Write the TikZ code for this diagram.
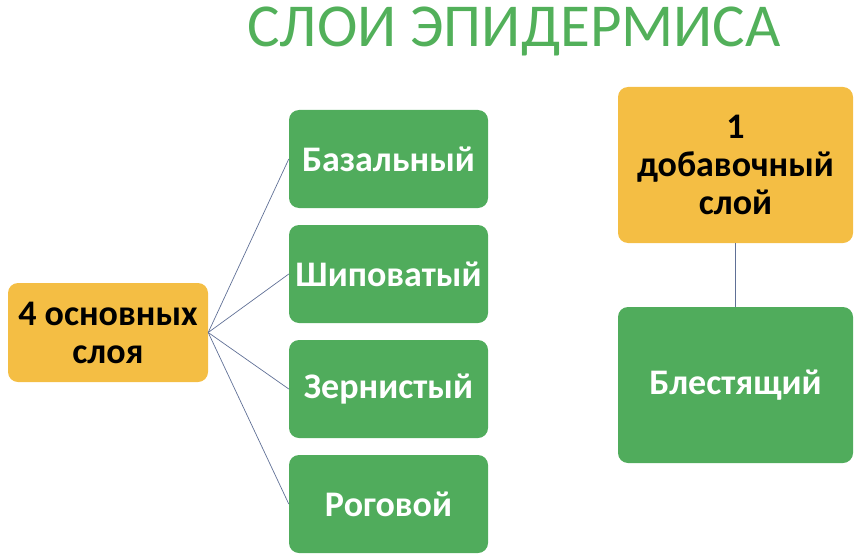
\documentclass[tikz,border=0pt]{standalone}
\usepackage{fontspec}
\setmainfont{Carlito}
\definecolor{boxgreen}{RGB}{80,172,92}
\definecolor{titlegreen}{RGB}{82,176,90}
\definecolor{boxorange}{RGB}{244,190,68}
\definecolor{linkcol}{RGB}{96,112,150}
\tikzset{
  base/.style={rectangle, rounded corners=10pt, inner sep=0pt, align=center,
    font=\fontsize{36}{38}\selectfont\bfseries},
  greenbox/.style={base, fill=boxgreen, text=white},
  orangebox/.style={base, fill=boxorange, text=black},
  link/.style={draw=linkcol, line width=0.7pt}
}
\begin{document}
\begin{tikzpicture}[x=1pt,y=-1pt]
\useasboundingbox (0,0) rectangle (866,559);
\node[text=titlegreen, font=\fontsize{61}{70}\selectfont, anchor=base] (title) at (514,47) {СЛОИ ЭПИДЕРМИСА};
\node[orangebox, minimum width=200pt, minimum height=99pt] (main) at (108,332.5) {4 основных\\слоя};
\node[greenbox, minimum width=199pt, minimum height=98pt] (g1) at (388.5,159) {Базальный};
\node[greenbox, minimum width=199pt, minimum height=98pt] (g2) at (388.5,274) {Шиповатый};
\node[greenbox, minimum width=199pt, minimum height=98pt] (g3) at (388.5,389) {Зернистый};
\node[greenbox, minimum width=199pt, minimum height=98pt] (g4) at (388.5,504) {Роговой};
\node[orangebox, minimum width=235pt, minimum height=156pt] (extra) at (735.5,165) {1\\добавочный\\слой};
\node[greenbox, minimum width=235pt, minimum height=156pt] (shiny) at (735.5,385) {Блестящий};
\foreach \g in {g1,g2,g3,g4} \draw[link] (main.east) -- (\g.west);
\draw[link] (extra.south) -- (shiny.north);
\end{tikzpicture}
\end{document}
